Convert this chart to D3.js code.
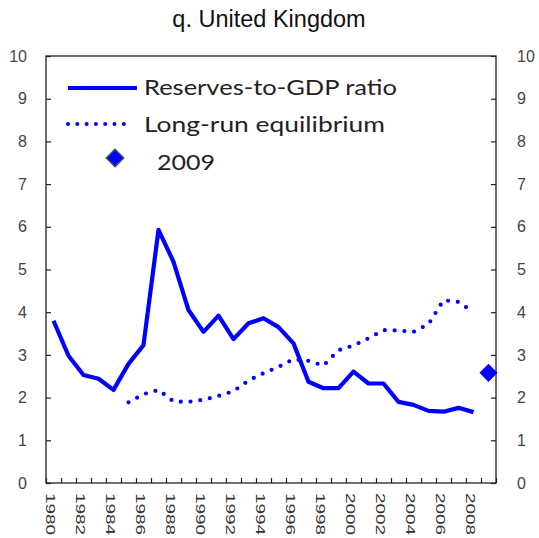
<!DOCTYPE html>
<html><head><meta charset="utf-8">
<script src="https://cdn.jsdelivr.net/npm/d3@7"></script>
<style>body{margin:0;background:#fff}svg{display:block}</style>
</head><body>
<svg id="c" width="539" height="538"></svg>
<script>
const years = d3.range(1980, 2010);
const ratioYears = d3.range(1980, 2009);
const ratio = [3.8,2.98,2.53,2.44,2.18,2.79,3.23,5.93,5.18,4.05,3.54,3.92,3.37,3.74,3.86,3.65,3.27,2.37,2.22,2.22,2.61,2.33,2.33,1.9,1.83,1.69,1.67,1.76,1.66];
const eqYears = d3.range(1985, 2009);
const equilibrium = [1.89,2.08,2.18,1.91,1.9,1.95,2.04,2.15,2.4,2.57,2.72,2.9,2.86,2.75,3.11,3.22,3.39,3.58,3.57,3.54,3.72,4.28,4.24,4.0];
const point2009 = [{year: 2009, value: 2.58}];
const yTicks = d3.range(0, 11);
const xLabels = d3.range(1980, 2009, 2);
const title = "q. United Kingdom";
const legendLabels = ["Reserves-to-GDP ratio", "Long-run equilibrium", "2009"];

const svg = d3.select("#c");
const L = 46, R = 496, T = 56, B = 483;
const blue = "#0000ff";
const x = d3.scaleBand().domain(years).range([L, R]).padding(0);
const xb = d3.scaleLinear().domain([1980, 2010]).range([L, R]);
const y = d3.scaleLinear().domain([0, 10]).range([B, T]);
const cx = d => x(d) + x.bandwidth() / 2;

svg.append("text").attr("x", 269).attr("y", 27).attr("text-anchor", "middle")
  .attr("font-family", "Liberation Sans, Arial, sans-serif").attr("font-size", 23.5)
  .attr("fill", "#111").text(title);

// frame
svg.append("rect").attr("x", L).attr("y", T).attr("width", R - L).attr("height", B - T)
  .attr("fill", "none").attr("stroke", "#222").attr("stroke-width", 1.3);

const yFont = g => g.selectAll("text").attr("font-family", "Liberation Sans, Arial, sans-serif")
  .attr("font-size", 16).attr("fill", "#444");

// left axis
const gl = svg.append("g").attr("transform", `translate(${L},0)`)
  .call(d3.axisLeft(y).tickValues(yTicks).tickFormat(d3.format("d")).tickSizeInner(-5).tickSizeOuter(0).tickPadding(19));
gl.select(".domain").remove();
gl.selectAll("line").attr("stroke", "#222").attr("stroke-width", 1.2);
yFont(gl);
// right axis
const gr = svg.append("g").attr("transform", `translate(${R},0)`)
  .call(d3.axisRight(y).tickValues(yTicks).tickFormat(d3.format("d")).tickSizeInner(-5).tickSizeOuter(0).tickPadding(21));
gr.select(".domain").remove();
gr.selectAll("line").attr("stroke", "#222").attr("stroke-width", 1.2);
yFont(gr);

// x ticks at band boundaries
const gxt = svg.append("g").attr("transform", `translate(0,${B})`)
  .call(d3.axisBottom(xb).tickValues(d3.range(1980, 2011)).tickFormat("").tickSizeInner(-5).tickSizeOuter(0));
gxt.select(".domain").remove();
gxt.selectAll("line").attr("stroke", "#222").attr("stroke-width", 1.2);

// x labels
const gx = svg.append("g").attr("transform", `translate(0,${B})`)
  .call(d3.axisBottom(x).tickValues(xLabels).tickSize(0).tickFormat(d3.format("d")));
gx.select(".domain").remove();
gx.selectAll("text")
  .attr("font-family", "Liberation Sans, Arial, sans-serif").attr("font-size", 12).attr("fill", "#333")
  .attr("text-anchor", "start").attr("y", 0).attr("dy", "0.35em")
  .attr("transform", "translate(-3,10) rotate(90) scale(1.58,1)");

// lines
const line = d3.line().x(d => cx(d[0])).y(d => y(d[1]));
svg.append("path").datum(ratioYears.map((yr, i) => [yr, ratio[i]]))
  .attr("d", line).attr("fill", "none").attr("stroke", blue).attr("stroke-width", 4.2)
  .attr("stroke-linejoin", "round");
svg.append("path").datum(eqYears.map((yr, i) => [yr, equilibrium[i]]))
  .attr("d", line).attr("fill", "none").attr("stroke", blue).attr("stroke-width", 4.2)
  .attr("stroke-linecap", "round").attr("stroke-dasharray", "0 9.8");

// 2009 diamond
const diamond = d3.symbol().type(d3.symbolDiamond2).size(210);
svg.selectAll(".pt").data(point2009).join("path")
  .attr("transform", d => `translate(${cx(d.year)},${y(d.value)})`)
  .attr("d", diamond).attr("fill", blue);

// legend
const lf = "Lato, 'Open Sans', sans-serif";
const lg = svg.append("g");
lg.append("line").attr("x1", 68).attr("x2", 137).attr("y1", 88).attr("y2", 88)
  .attr("stroke", blue).attr("stroke-width", 4);
lg.append("text").attr("x", 144).attr("y", 95).text(legendLabels[0])
  .attr("textLength", 253).attr("lengthAdjust", "spacingAndGlyphs");
lg.append("line").attr("x1", 68).attr("x2", 133).attr("y1", 124).attr("y2", 124)
  .attr("stroke", blue).attr("stroke-width", 4).attr("stroke-linecap", "round").attr("stroke-dasharray", "0 9.3");
lg.append("text").attr("x", 144).attr("y", 132).text(legendLabels[1])
  .attr("textLength", 241).attr("lengthAdjust", "spacingAndGlyphs");
lg.append("path").attr("transform", "translate(115,158)")
  .attr("d", d3.symbol().type(d3.symbolDiamond2).size(190)).attr("fill", blue)
  .attr("stroke", "#3a4a6a").attr("stroke-width", 1.5);
lg.append("text").attr("x", 157).attr("y", 170).text(legendLabels[2])
  .attr("textLength", 58).attr("lengthAdjust", "spacingAndGlyphs");
lg.selectAll("text").attr("font-family", lf).attr("font-size", 21).attr("fill", "#222");
</script>
</body></html>
